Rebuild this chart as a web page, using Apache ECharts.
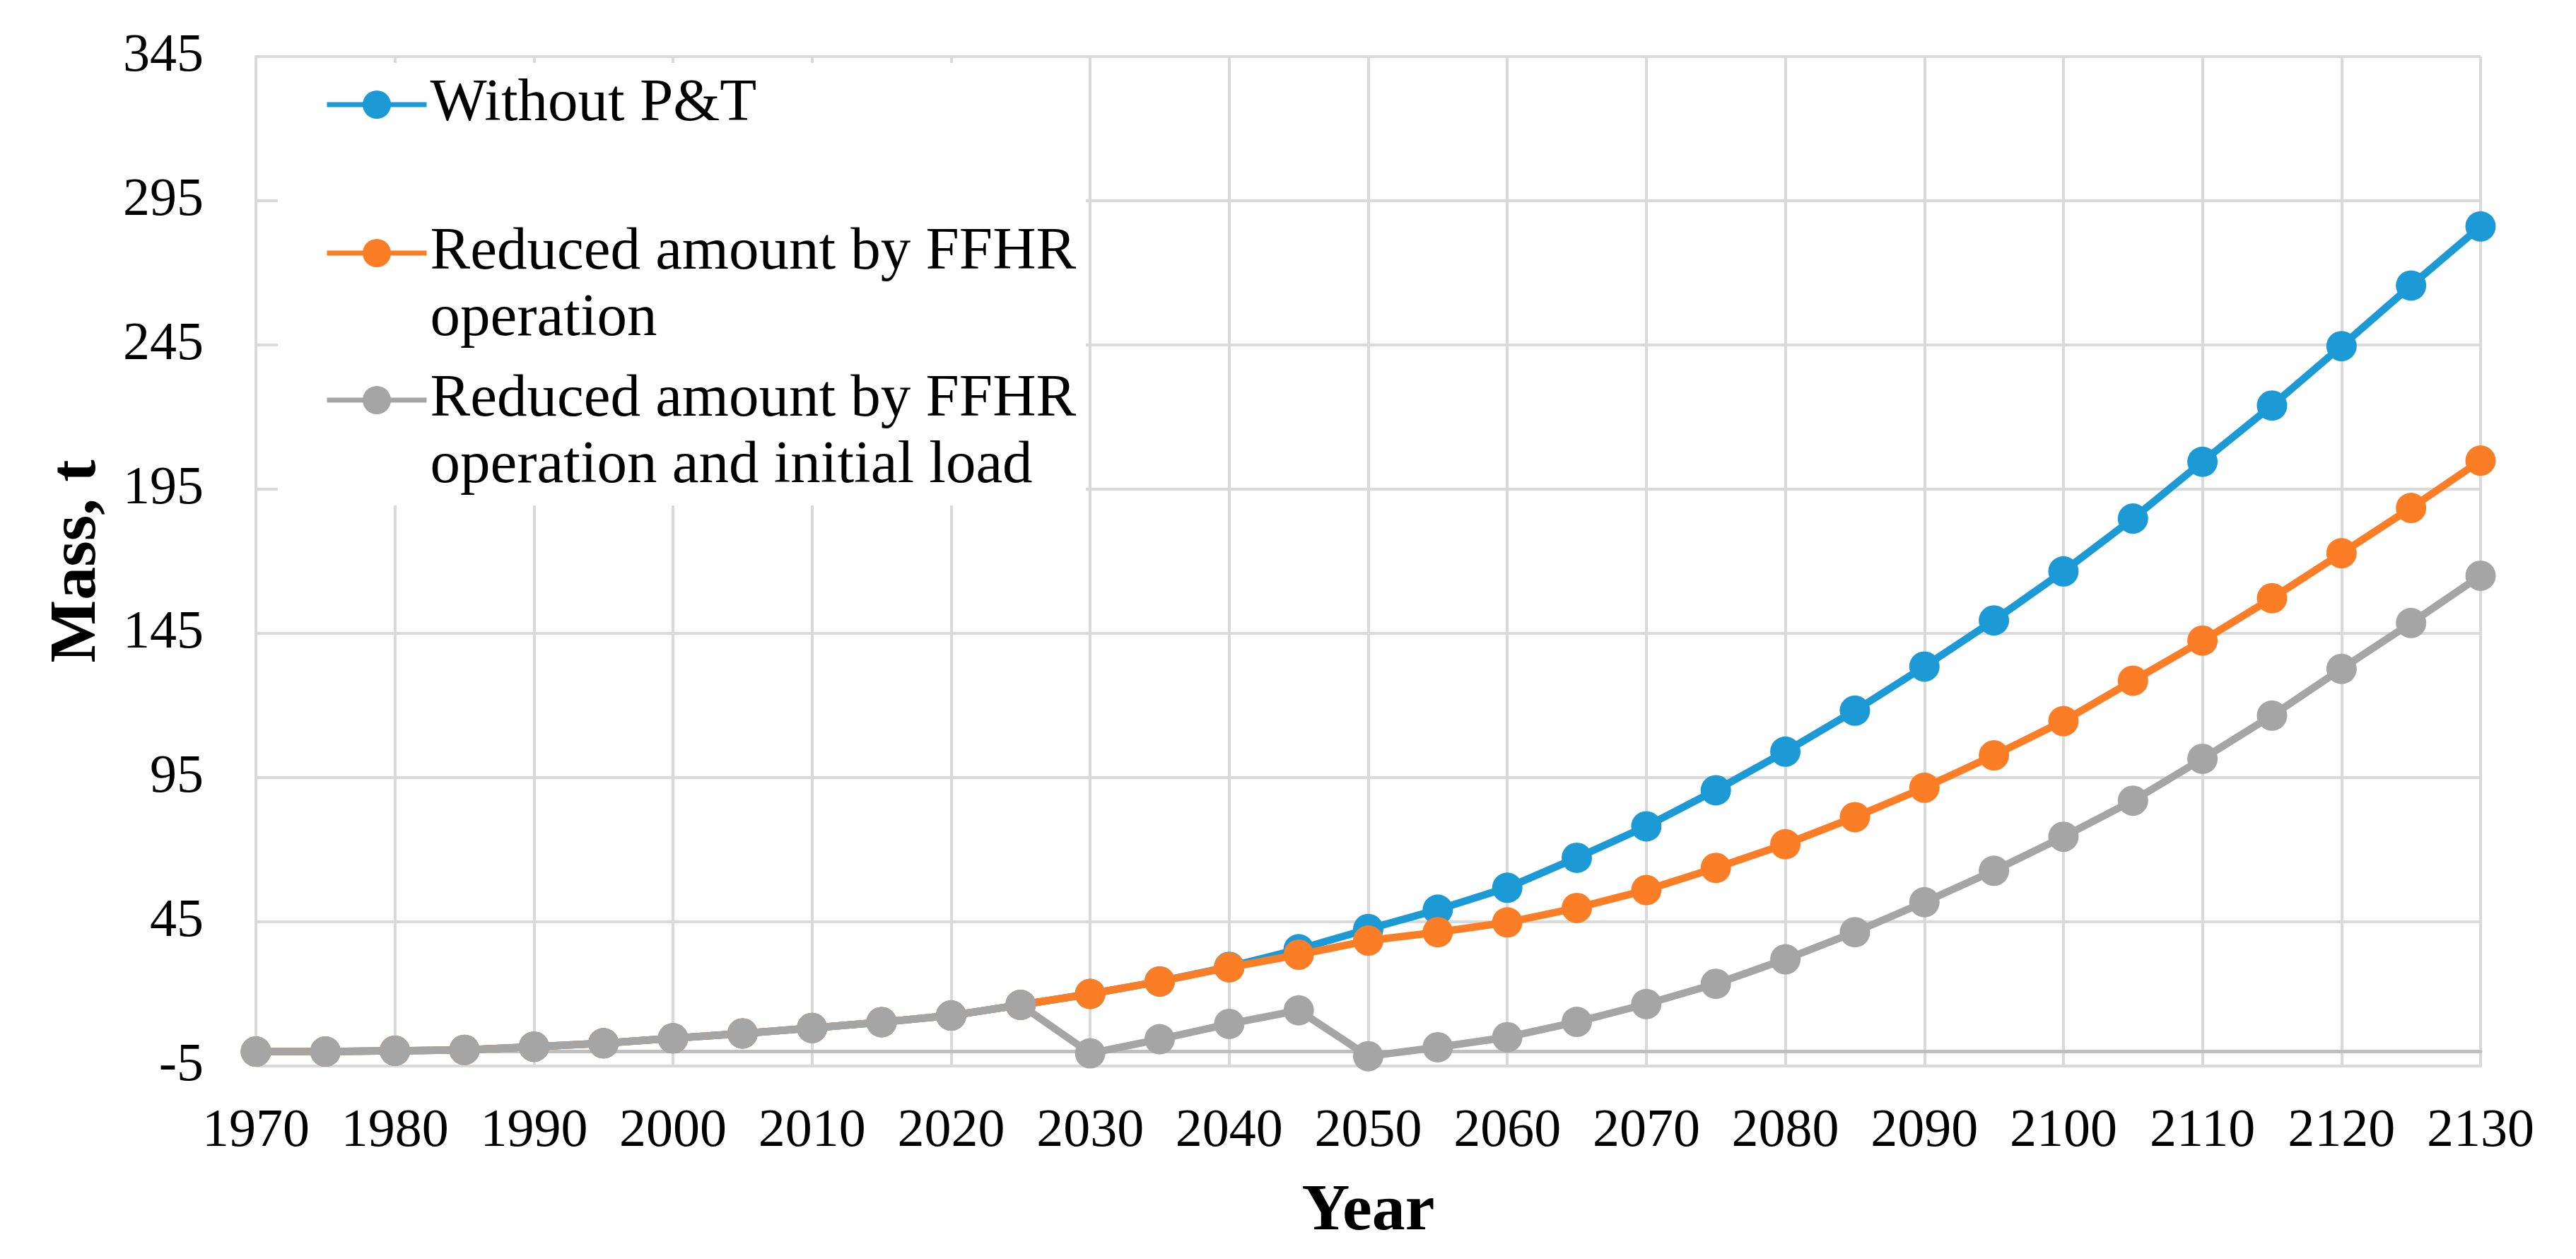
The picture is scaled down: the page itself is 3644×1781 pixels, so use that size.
<!DOCTYPE html>
<html>
<head>
<meta charset="utf-8">
<script src="https://cdn.jsdelivr.net/npm/echarts@6/dist/echarts.min.js"></script>
<style>
html,body{margin:0;padding:0;background:#fff;}
#chart{width:3644px;height:1781px;}
</style>
</head>
<body>
<div id="chart"></div>
<script>
const years = [1970,1975,1980,1985,1990,1995,2000,2005,2010,2015,2020,2025,2030,2035,2040,2045,2050,2055,2060,2065,2070,2075,2080,2085,2090,2095,2100,2105,2110,2115,2120,2125,2130];
const withoutPT = [0,0,0.3,0.6,1.7,2.9,4.6,6.3,8.2,10.2,12.5,16.2,20.0,24.3,29.4,35.5,42.5,49.2,56.8,67.2,78.1,90.6,104.0,118.2,133.5,149.5,166.5,184.8,204.5,224.0,244.6,265.6,286.1];
const reducedOperation = [0,0,0.3,0.6,1.7,2.9,4.6,6.3,8.2,10.2,12.5,16.2,20.0,24.3,29.2,33.6,38.5,41.4,44.8,49.8,56.0,63.7,71.9,81.3,91.5,102.7,114.6,128.6,142.5,157.2,172.8,188.5,204.9];
const reducedOperationInitial = [0,0,0.3,0.6,1.7,2.9,4.6,6.3,8.2,10.2,12.5,16.2,-0.6,4.3,9.6,14.3,-1.6,1.5,5.0,10.3,16.5,23.5,32.0,41.4,51.8,62.7,74.5,87.0,101.5,116.5,132.7,148.6,165.0];
const seriesNames = ['Without P&T','Reduced amount by FFHR operation','Reduced amount by FFHR operation and initial load'];
const legendLabels = ['Without P&T','\nReduced amount by FFHR\noperation','\nReduced amount by FFHR\noperation and initial load'];
const colors = ['#1c9ad6','#fb7d26','#a5a5a5'];
const xMin = 1970, xMax = 2130, xStep = 10;
const yMin = -5, yMax = 345, yStep = 50;

const FONT = "'Liberation Serif','Times New Roman',serif";
const chart = echarts.init(document.getElementById('chart'), null, {renderer:'canvas', devicePixelRatio:1});

function pairs(vals){ return years.map((y,i)=>[y, vals[i]]); }
const allVals = [withoutPT, reducedOperation, reducedOperationInitial];

function mkLegend(i, top){
  return {
    data:[seriesNames[i]], left:459, top:top, orient:'vertical', padding:0,
    itemWidth:141, itemHeight:50, selectedMode:false, z:10,
    formatter: ()=>legendLabels[i],
    lineStyle:{width:7},
    textStyle:{fontFamily:FONT, fontSize:85, color:'#000', lineHeight:94}
  };
}

chart.setOption({
  animation:false,
  backgroundColor:'#fff',
  grid:{left:362, right:135, top:80, bottom:273, containLabel:false},
  graphic:[{type:'rect', z:3, shape:{x:393, y:89, width:1143, height:626}, style:{fill:'#fff'}, silent:true}],
  legend:[ mkLegend(0, 101), mkLegend(1, 217), mkLegend(2, 425) ],
  xAxis:[{
    type:'value', min:xMin, max:xMax, interval:xStep,
    name:'Year', nameLocation:'middle', nameGap:160,
    nameTextStyle:{fontFamily:FONT, fontSize:94, fontWeight:'bold', color:'#000'},
    axisLine:{show:true, onZero:false, lineStyle:{color:'#d9d9d9', width:4}},
    axisTick:{show:false},
    axisLabel:{fontFamily:FONT, fontSize:76, color:'#000', margin:55, formatter:(v)=>String(v)},
    splitLine:{show:true, lineStyle:{color:'#d9d9d9', width:4}}
  },{
    type:'value', min:xMin, max:xMax, position:'bottom',
    axisLine:{show:true, onZero:true, onZeroAxisIndex:0, lineStyle:{color:'#bfbfbf', width:5}},
    axisTick:{show:false}, axisLabel:{show:false}, splitLine:{show:false}
  }],
  yAxis:{
    type:'value', min:yMin, max:yMax, interval:yStep,
    name:'Mass, t', nameLocation:'middle', nameGap:205,
    nameTextStyle:{fontFamily:FONT, fontSize:94, fontWeight:'bold', color:'#000'},
    axisLine:{show:true, lineStyle:{color:'#d9d9d9', width:4}},
    axisTick:{show:false},
    axisLabel:{fontFamily:FONT, fontSize:76, color:'#000', margin:74},
    splitLine:{show:true, lineStyle:{color:'#d9d9d9', width:4}}
  },
  series: seriesNames.map((n,i)=>({
    name:n, type:'line', xAxisIndex:0, yAxisIndex:0,
    data:pairs(allVals[i]),
    symbol:'circle', symbolSize:43, showSymbol:true,
    lineStyle:{color:colors[i], width:10.5},
    itemStyle:{color:colors[i], borderWidth:0},
    z:4+i
  }))
});
</script>
</body>
</html>
